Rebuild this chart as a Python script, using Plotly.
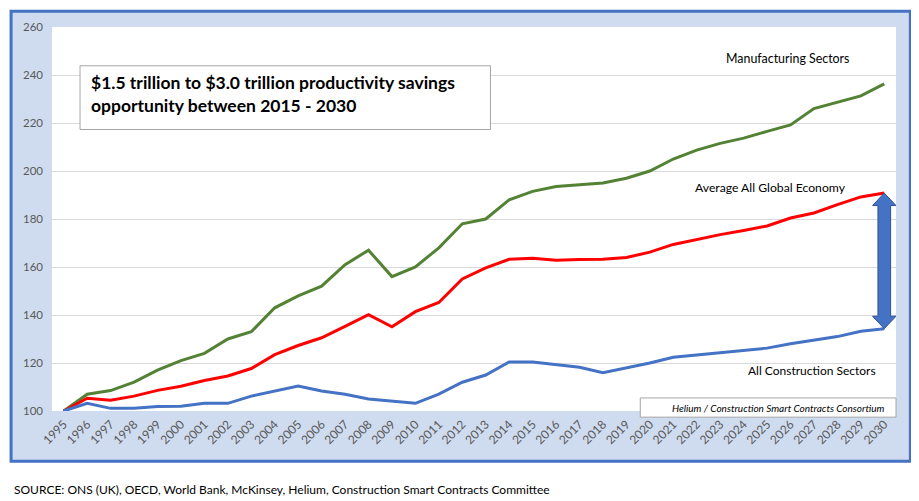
import plotly.graph_objects as go

years = [str(y) for y in range(1995, 2031)]

manufacturing = [100, 107, 108.5, 112, 117, 121, 124, 130, 133, 143,
                 148, 152, 161, 167, 156, 160, 168, 178, 180, 188,
                 191.5, 193.5, 194.3, 195, 197, 200, 205, 208.7, 211.5, 213.7,
                 216.5, 219.2, 226, 228.5, 231.3, 236.3]
average = [100, 105.3, 104.5, 106.2, 108.6, 110.3, 112.7, 114.6, 117.7, 123.5,
           127.3, 130.5, 135.3, 140.1, 135.1, 141.4, 145.2, 155, 159.6, 163.2,
           163.6, 162.8, 163.1, 163.2, 164, 166.2, 169.4, 171.5, 173.5, 175.2,
           177.1, 180.4, 182.5, 186, 189.2, 190.8]
construction = [100, 103.2, 101.1, 101.1, 101.9, 102, 103.2, 103.2, 106.2, 108.3,
                110.4, 108.3, 107, 105, 104.1, 103.2, 107, 112, 115, 120.4,
                120.4, 119.3, 118.2, 116, 118, 120, 122.4, 123.4, 124.3, 125.3,
                126.2, 128, 129.4, 131, 133.2, 134.3]

y_ticks = [100, 120, 140, 160, 180, 200, 220, 240, 260]

FONT = "Lato"
GREY = "#595959"

fig = go.Figure()
fig.add_trace(go.Scatter(x=years, y=manufacturing, mode="lines", name="Manufacturing Sectors",
                         line=dict(color="#548235", width=3)))
fig.add_trace(go.Scatter(x=years, y=average, mode="lines", name="Average All Global Economy",
                         line=dict(color="#FF0000", width=3)))
fig.add_trace(go.Scatter(x=years, y=construction, mode="lines", name="All Construction Sectors",
                         line=dict(color="#4472C4", width=3)))

# outer chart frame (light blue fill, blue border)
fig.add_shape(type="rect", xref="paper", yref="paper", x0=-0.0485, x1=1.017, y0=-0.131, y1=1.041,
              fillcolor="#CFDBEF", line=dict(color="#4472C4", width=3), layer="below")
# white plot area
fig.add_shape(type="rect", xref="paper", yref="paper", x0=0, x1=1, y0=0, y1=1,
              fillcolor="white", line=dict(width=0), layer="below")

# double headed block arrow between the 2030 end points
n = len(years) - 1
top, bot = average[-1], construction[-1]
sw, hw, hh = 0.27, 0.5, 5.2
path = (f"M {n},{top} L {n+hw},{top-hh} L {n+sw},{top-hh} L {n+sw},{bot+hh} "
        f"L {n+hw},{bot+hh} L {n},{bot} L {n-hw},{bot+hh} L {n-sw},{bot+hh} "
        f"L {n-sw},{top-hh} L {n-hw},{top-hh} Z")
fig.add_shape(type="path", xref="x", yref="y", path=path,
              fillcolor="#4472C4", line=dict(color="#2F528F", width=1))

# headline box
fig.add_shape(type="rect", xref="paper", yref="paper", x0=0.0332, x1=0.5195, y0=0.733, y1=0.899,
              fillcolor="white", line=dict(color="#A6A6A6", width=1))
fig.add_annotation(xref="paper", yref="paper", x=0.044, y=0.826, xanchor="left", yanchor="middle",
                   align="left", showarrow=False,
                   text="<b>$1.5 trillion to $3.0 trillion productivity savings<br>opportunity between 2015 - 2030</b>",
                   font=dict(family=FONT, size=17.5, color="black"))

# credit box
fig.add_shape(type="rect", xref="paper", yref="paper", x0=0.697, x1=1.0, y0=-0.016, y1=0.034,
              fillcolor="white", line=dict(color="#A6A6A6", width=1))
fig.add_annotation(xref="paper", yref="paper", x=0.988, y=0.009, xanchor="right", yanchor="middle",
                   showarrow=False, text="<i>Helium / Construction Smart Contracts Consortium</i>",
                   font=dict(family=FONT, size=10, color="black"))

# series labels
fig.add_annotation(xref="paper", yref="paper", x=0.872, y=0.917, xanchor="center", yanchor="middle",
                   showarrow=False, text="Manufacturing Sectors",
                   font=dict(family=FONT, size=12.4, color="black"))
fig.add_annotation(xref="paper", yref="paper", x=0.851, y=0.581, xanchor="center", yanchor="middle",
                   showarrow=False, text="Average All Global Economy",
                   font=dict(family=FONT, size=12.2, color="black"))
fig.add_annotation(xref="paper", yref="paper", x=0.9, y=0.106, xanchor="center", yanchor="middle",
                   showarrow=False, text="All Construction Sectors",
                   font=dict(family=FONT, size=12, color="black"))

# source line
fig.add_annotation(xref="paper", yref="paper", x=-0.047, y=-0.205, xanchor="left", yanchor="middle",
                   showarrow=False,
                   text="SOURCE: ONS (UK), OECD, World Bank, McKinsey, Helium, Construction Smart Contracts Committee",
                   font=dict(family=FONT, size=12, color="black"))

# page body adds 8px at left/top, so the figure is 8px smaller there
fig.update_layout(
    width=911, height=493,
    margin=dict(l=44, r=23, t=17, b=90),
    paper_bgcolor="white",
    plot_bgcolor="rgba(0,0,0,0)",
    showlegend=False,
    font=dict(family=FONT, color=GREY),
    xaxis=dict(type="category", tickangle=-45, tickfont=dict(size=12, color=GREY),
               showgrid=False, showline=False, ticks="", range=[-0.5, n + 0.5],
               ticklabelstandoff=3),
    yaxis=dict(range=[100, 260], tickvals=y_ticks, tickfont=dict(size=11.5, color=GREY),
               gridcolor="#D9D9D9", gridwidth=1, zeroline=False, showline=False, ticks="",
               ticklabelstandoff=8),
)

fig.write_html("out.html")
